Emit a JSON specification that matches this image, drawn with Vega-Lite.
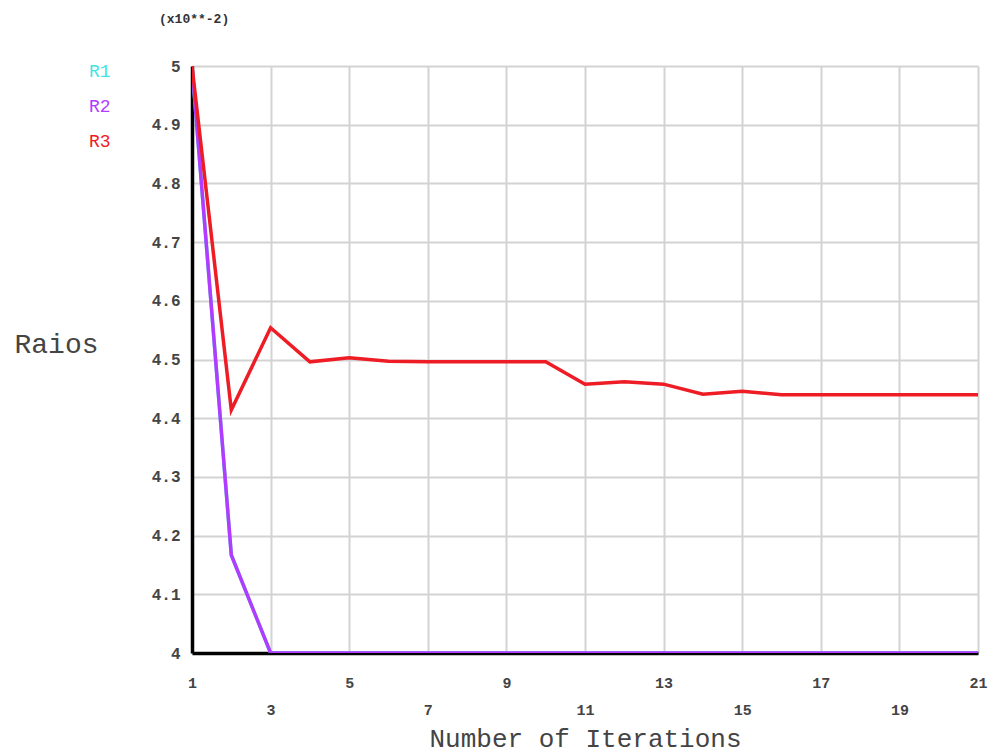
{
  "$schema": "https://vega.github.io/schema/vega-lite/v6.json",
  "width": 786,
  "height": 587,
  "autosize": {"type": "none"},
  "padding": {"left": 192, "top": 66, "right": 30, "bottom": 103},
  "background": "white",
  "title": {
    "text": "(x10**-2)",
    "anchor": "start",
    "frame": "group",
    "dx": -33,
    "offset": 32,
    "font": "Liberation Mono",
    "fontSize": 13,
    "fontWeight": "bold",
    "color": "#333333"
  },
  "data": {
    "values": [
      {"series": "R1", "iter": 1, "ratio": 5.0},
      {"series": "R1", "iter": 2, "ratio": 4.167},
      {"series": "R1", "iter": 3, "ratio": 4.0},
      {"series": "R1", "iter": 4, "ratio": 4.0},
      {"series": "R1", "iter": 5, "ratio": 4.0},
      {"series": "R1", "iter": 6, "ratio": 4.0},
      {"series": "R1", "iter": 7, "ratio": 4.0},
      {"series": "R1", "iter": 8, "ratio": 4.0},
      {"series": "R1", "iter": 9, "ratio": 4.0},
      {"series": "R1", "iter": 10, "ratio": 4.0},
      {"series": "R1", "iter": 11, "ratio": 4.0},
      {"series": "R1", "iter": 12, "ratio": 4.0},
      {"series": "R1", "iter": 13, "ratio": 4.0},
      {"series": "R1", "iter": 14, "ratio": 4.0},
      {"series": "R1", "iter": 15, "ratio": 4.0},
      {"series": "R1", "iter": 16, "ratio": 4.0},
      {"series": "R1", "iter": 17, "ratio": 4.0},
      {"series": "R1", "iter": 18, "ratio": 4.0},
      {"series": "R1", "iter": 19, "ratio": 4.0},
      {"series": "R1", "iter": 20, "ratio": 4.0},
      {"series": "R1", "iter": 21, "ratio": 4.0},
      {"series": "R2", "iter": 1, "ratio": 5.0},
      {"series": "R2", "iter": 2, "ratio": 4.167},
      {"series": "R2", "iter": 3, "ratio": 4.0},
      {"series": "R2", "iter": 4, "ratio": 4.0},
      {"series": "R2", "iter": 5, "ratio": 4.0},
      {"series": "R2", "iter": 6, "ratio": 4.0},
      {"series": "R2", "iter": 7, "ratio": 4.0},
      {"series": "R2", "iter": 8, "ratio": 4.0},
      {"series": "R2", "iter": 9, "ratio": 4.0},
      {"series": "R2", "iter": 10, "ratio": 4.0},
      {"series": "R2", "iter": 11, "ratio": 4.0},
      {"series": "R2", "iter": 12, "ratio": 4.0},
      {"series": "R2", "iter": 13, "ratio": 4.0},
      {"series": "R2", "iter": 14, "ratio": 4.0},
      {"series": "R2", "iter": 15, "ratio": 4.0},
      {"series": "R2", "iter": 16, "ratio": 4.0},
      {"series": "R2", "iter": 17, "ratio": 4.0},
      {"series": "R2", "iter": 18, "ratio": 4.0},
      {"series": "R2", "iter": 19, "ratio": 4.0},
      {"series": "R2", "iter": 20, "ratio": 4.0},
      {"series": "R2", "iter": 21, "ratio": 4.0},
      {"series": "R3", "iter": 1, "ratio": 5.0},
      {"series": "R3", "iter": 2, "ratio": 4.414},
      {"series": "R3", "iter": 3, "ratio": 4.554},
      {"series": "R3", "iter": 4, "ratio": 4.496},
      {"series": "R3", "iter": 5, "ratio": 4.503},
      {"series": "R3", "iter": 6, "ratio": 4.497},
      {"series": "R3", "iter": 7, "ratio": 4.496},
      {"series": "R3", "iter": 8, "ratio": 4.496},
      {"series": "R3", "iter": 9, "ratio": 4.496},
      {"series": "R3", "iter": 10, "ratio": 4.496},
      {"series": "R3", "iter": 11, "ratio": 4.458},
      {"series": "R3", "iter": 12, "ratio": 4.462},
      {"series": "R3", "iter": 13, "ratio": 4.458},
      {"series": "R3", "iter": 14, "ratio": 4.441},
      {"series": "R3", "iter": 15, "ratio": 4.446},
      {"series": "R3", "iter": 16, "ratio": 4.44},
      {"series": "R3", "iter": 17, "ratio": 4.44},
      {"series": "R3", "iter": 18, "ratio": 4.44},
      {"series": "R3", "iter": 19, "ratio": 4.44},
      {"series": "R3", "iter": 20, "ratio": 4.44},
      {"series": "R3", "iter": 21, "ratio": 4.44}
    ]
  },
  "mark": {"type": "line", "strokeWidth": 3.5, "clip": true},
  "encoding": {
    "x": {
      "field": "iter",
      "type": "quantitative",
      "scale": {"domain": [1, 21], "nice": false, "zero": false},
      "axis": {
        "values": [1, 3, 5, 7, 9, 11, 13, 15, 17, 19, 21],
        "labelExpr": "indexof([3, 7, 11, 15, 19], datum.value) >= 0 ? ['', datum.label] : datum.label",
        "title": "Number of Iterations",
        "titleFont": "Liberation Mono",
        "titleFontSize": 26,
        "titleFontWeight": "normal",
        "titleColor": "#444444",
        "titleY": 85,
        "titleBaseline": "middle",
        "labelFont": "Liberation Mono",
        "labelFontSize": 15,
        "labelFontWeight": "bold",
        "labelColor": "#444444",
        "labelPadding": 22,
        "labelLineHeight": 27,
        "labelFlush": false,
        "labelOverlap": false,
        "ticks": false,
        "domainColor": "#000000",
        "domainWidth": 3.5,
        "grid": true,
        "gridColor": "#d3d3d3",
        "gridWidth": 2
      }
    },
    "y": {
      "field": "ratio",
      "type": "quantitative",
      "scale": {"domain": [4, 5], "nice": false, "zero": false},
      "axis": {
        "values": [4, 4.1, 4.2, 4.3, 4.4, 4.5, 4.6, 4.7, 4.8, 4.9, 5],
        "format": "~g",
        "title": "Raios",
        "titleAngle": 0,
        "titleFont": "Liberation Mono",
        "titleFontSize": 28,
        "titleFontWeight": "normal",
        "titleColor": "#444444",
        "titleX": -136,
        "titleY": 286,
        "titleAlign": "center",
        "titleBaseline": "alphabetic",
        "labelFont": "Liberation Mono",
        "labelFontSize": 16,
        "labelFontWeight": "bold",
        "labelColor": "#444444",
        "labelPadding": 12,
        "labelFlush": false,
        "labelOverlap": false,
        "ticks": false,
        "domainColor": "#000000",
        "domainWidth": 3.5,
        "grid": true,
        "gridColor": "#d3d3d3",
        "gridWidth": 2
      }
    },
    "color": {
      "field": "series",
      "type": "nominal",
      "scale": {"domain": ["R1", "R2", "R3"], "range": ["#44e4e4", "#b13cff", "#ee1c24"]},
      "legend": {
        "orient": "none",
        "legendX": -121,
        "legendY": -3,
        "title": null,
        "symbolSize": 0,
        "symbolStrokeWidth": 0,
        "symbolOpacity": 0,
        "labelOffset": 0,
        "labelFont": "Liberation Mono",
        "labelFontSize": 18,
        "rowPadding": 17,
        "encode": {
          "labels": {"update": {"fill": {"scale": "color", "field": "value"}}}
        }
      }
    }
  },
  "config": {"view": {"stroke": null}}
}
